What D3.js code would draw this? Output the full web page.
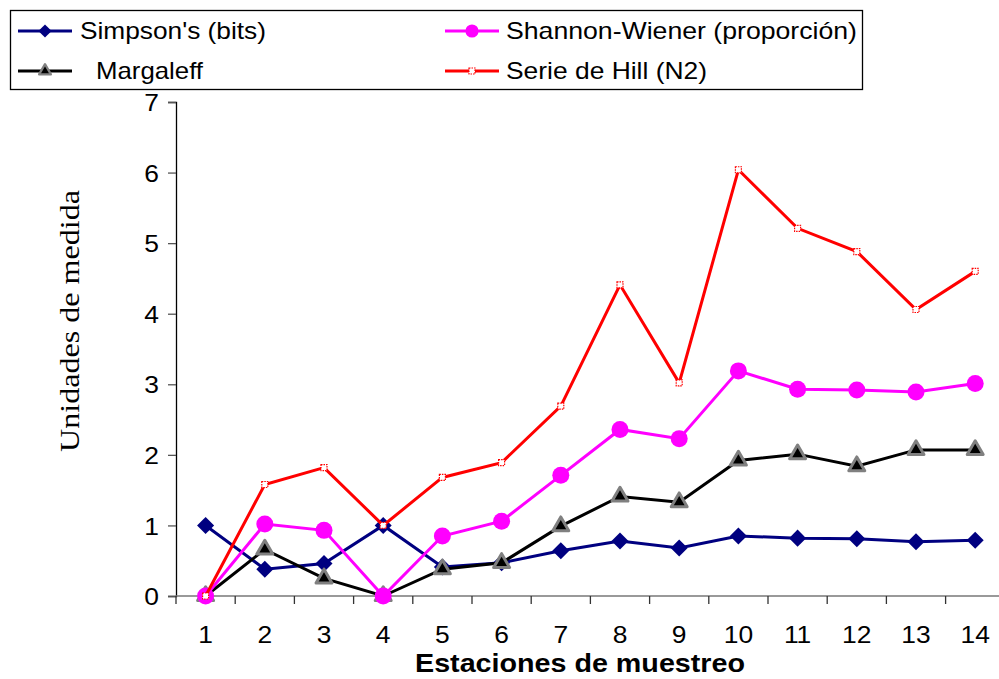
<!DOCTYPE html>
<html>
<head>
<meta charset="utf-8">
<script src="https://cdn.jsdelivr.net/npm/d3@7"></script>
<style>
  html, body { margin: 0; padding: 0; background: #fff; }
  svg { display: block; }
</style>
</head>
<body>
<svg id="chart" width="999" height="679"></svg>
<script>
// Sampling stations and diversity indices
const stations = ["1","2","3","4","5","6","7","8","9","10","11","12","13","14"];
const simpson  = [1.00, 0.38, 0.46, 1.00, 0.41, 0.47, 0.64, 0.78, 0.68, 0.85, 0.82, 0.81, 0.77, 0.79];
const shannon  = [0.00, 1.02, 0.93, 0.00, 0.85, 1.06, 1.71, 2.36, 2.23, 3.19, 2.93, 2.92, 2.89, 3.01];
const margalef = [0.00, 0.66, 0.25, 0.00, 0.38, 0.47, 0.99, 1.41, 1.33, 1.92, 2.01, 1.84, 2.07, 2.07];
const hill     = [0.00, 1.58, 1.82, 1.00, 1.68, 1.89, 2.69, 4.41, 3.02, 6.04, 5.21, 4.88, 4.06, 4.60];
const yTicks   = [0, 1, 2, 3, 4, 5, 6, 7];

const series = [
  { name: "Simpson's (bits)",            values: simpson,  color: "#000080", marker: "diamond" },
  { name: "Margaleff",                   values: margalef, color: "#000000", marker: "triangle" },
  { name: "Shannon-Wiener (proporción)", values: shannon,  color: "#ff00ff", marker: "circle" },
  { name: "Serie de Hill (N2)",          values: hill,     color: "#ff0000", marker: "square" }
];

const SANS = "Liberation Sans, Arial, sans-serif";
const STRETCH = 1.1; // labels are set slightly wide

const svg = d3.select("#chart");
const plotLeft = 176, plotRight = 176 + 59.2 * 14, plotTop = 102, plotBottom = 596;

const x = d3.scaleBand().domain(stations).range([plotLeft, plotRight]).paddingInner(0).paddingOuter(0);
const y = d3.scaleLinear().domain([0, 7]).range([plotBottom, plotTop]);

// Y axis
const yAxis = svg.append("g").attr("transform", `translate(${plotLeft},0)`)
  .call(d3.axisLeft(y).tickValues(yTicks).tickSize(8).tickPadding(10).tickFormat(d3.format("d")));
yAxis.select(".domain").attr("stroke", "#000").attr("stroke-width", 1.3);
yAxis.selectAll(".tick line").attr("stroke", "#555").attr("stroke-width", 1.3);
yAxis.selectAll(".tick text").attr("font-family", SANS)
  .attr("font-size", 24).attr("fill", "#000").attr("dy", "0.36em")
  .attr("x", -17 / STRETCH).attr("transform", `scale(${STRETCH},1)`);

// X axis: ticks between categories
const xAxisG = svg.append("g").attr("transform", `translate(0,${plotBottom})`);
xAxisG.append("line").attr("x1", plotLeft).attr("x2", plotRight).attr("y1", 0).attr("y2", 0)
  .attr("stroke", "#777").attr("stroke-width", 1.6);
xAxisG.selectAll("line.tk").data(stations).enter().append("line").attr("class", "tk")
  .attr("x1", d => x(d)).attr("x2", d => x(d)).attr("y1", 0).attr("y2", 8)
  .attr("stroke", "#333").attr("stroke-width", 1.3);
xAxisG.selectAll("text").data(stations).enter().append("text")
  .attr("transform", d => `translate(${x(d) + x.bandwidth() / 2},47) scale(${STRETCH},1)`)
  .attr("text-anchor", "middle").attr("font-family", SANS)
  .attr("font-size", 24).attr("fill", "#000").text(d => d);

// Axis titles
svg.append("text").attr("x", 415).attr("y", 672)
  .attr("font-family", SANS).attr("font-weight", "bold")
  .attr("font-size", 26).attr("textLength", 330).attr("lengthAdjust", "spacingAndGlyphs")
  .text("Estaciones de muestreo");
svg.append("text").attr("transform", "translate(79,452) rotate(-90)")
  .attr("font-family", "Liberation Serif, Times New Roman, serif")
  .attr("font-size", 27).attr("textLength", 262).attr("lengthAdjust", "spacingAndGlyphs")
  .text("Unidades de medida");

// Marker drawing
function drawMarker(g, type, color, k = 1) {
  if (type === "diamond") {
    g.append("path").attr("d", d3.symbol().type(d3.symbolDiamond2).size(185 * k)())
      .attr("fill", color);
  } else if (type === "triangle") {
    g.append("path").attr("d", d3.symbol().type(d3.symbolTriangle).size(110 * k)())
      .attr("fill", "#000").attr("stroke", "#808080").attr("stroke-width", 3 * Math.sqrt(k))
      .attr("stroke-linejoin", "round");
  } else if (type === "circle") {
    g.append("circle").attr("r", 8.5 * Math.sqrt(k)).attr("fill", color);
  } else if (type === "square") {
    g.append("rect").attr("x", -3).attr("y", -3).attr("width", 6).attr("height", 6)
      .attr("fill", "#fff").attr("stroke", color).attr("stroke-width", 1.2).attr("stroke-dasharray", "1.5,1");
  }
}

const line = d3.line().x((d, i) => x(stations[i]) + x.bandwidth() / 2).y(d => y(d));

series.forEach(s => {
  const g = svg.append("g");
  g.append("path").datum(s.values).attr("d", line).attr("fill", "none")
    .attr("stroke", s.color).attr("stroke-width", 3).attr("stroke-linejoin", "miter");
  s.values.forEach((v, i) => {
    const m = g.append("g").attr("transform", `translate(${x(stations[i]) + x.bandwidth() / 2},${y(v)})`);
    drawMarker(m, s.marker, s.color);
  });
});

// Legend
const legend = svg.append("g");
legend.append("rect").attr("x", 10.5).attr("y", 10.5).attr("width", 852).attr("height", 79)
  .attr("fill", "#fff").attr("stroke", "#000").attr("stroke-width", 1.3);
const legendItems = [
  { s: series[0], lx: 18,  tx: 80,  cy: 31, w: 186 },
  { s: series[2], lx: 445, tx: 506, cy: 31, w: 351 },
  { s: series[1], lx: 18,  tx: 96,  cy: 71, w: 107 },
  { s: series[3], lx: 445, tx: 506, cy: 71, w: 201 }
];
legendItems.forEach(it => {
  const g = legend.append("g");
  g.append("line").attr("x1", it.lx).attr("x2", it.lx + 54).attr("y1", it.cy).attr("y2", it.cy)
    .attr("stroke", it.s.color).attr("stroke-width", 3);
  const m = g.append("g").attr("transform", `translate(${it.lx + 27},${it.cy})`);
  drawMarker(m, it.s.marker, it.s.color, it.s.marker === "triangle" ? 0.55 : 0.6);
  g.append("text").attr("x", it.tx).attr("y", it.cy).attr("dy", "0.35em")
    .attr("font-family", SANS).attr("font-size", 24)
    .attr("textLength", it.w).attr("lengthAdjust", "spacingAndGlyphs").text(it.s.name);
});
</script>
</body>
</html>
